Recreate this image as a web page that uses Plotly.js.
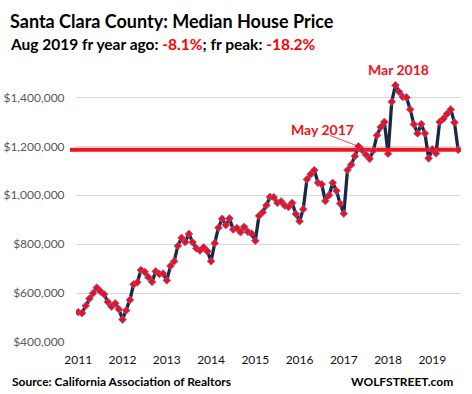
<!DOCTYPE html>
<html>
<head>
<meta charset="utf-8">
<script src="https://cdn.plot.ly/plotly-3.0.1.min.js"></script>
<style>
html,body{margin:0;padding:0;background:#fff;}
#chart{width:472px;height:394px;}
</style>
</head>
<body>
<div id="chart"></div>
<script>
// Monthly median house price, Santa Clara County, thousands of dollars (Jan 2011 - Aug 2019)
var startYear = 2011;
var prices2011 = [522, 518, 548, 577, 599, 622, 607, 595, 564, 545, 558, 534];
var prices2012 = [492, 529, 572, 636, 644, 694, 687, 665, 646, 689, 678, 680];
var prices2013 = [652, 711, 730, 793, 826, 809, 842, 808, 783, 774, 787, 771];
var prices2014 = [730, 804, 867, 904, 878, 905, 860, 866, 849, 871, 850, 843];
var prices2015 = [814, 916, 931, 959, 993, 992, 969, 975, 958, 952, 969, 923];
var prices2016 = [894, 943, 1065, 1086, 1103, 1051, 1045, 977, 1000, 1051, 1018, 966];
var prices2017 = [925, 1103, 1125, 1160, 1200, 1185, 1166, 1149, 1183, 1245, 1279, 1300];
var prices2018 = [1170, 1382, 1450, 1423, 1402, 1400, 1351, 1290, 1253, 1291, 1253, 1151];
var prices2019 = [1188, 1171, 1300, 1313, 1333, 1351, 1298, 1186];

var yearLabels = ['2011','2012','2013','2014','2015','2016','2017','2018','2019'];
var yTickVals = [400, 600, 800, 1000, 1200, 1400];
var yTickText = ['$400,000','$600,000','$800,000','$1,000,000','$1,200,000','$1,400,000'];

var monthNames = ['Jan','Feb','Mar','Apr','May','Jun','Jul','Aug','Sep','Oct','Nov','Dec'];

var prices = [].concat(prices2011, prices2012, prices2013, prices2014, prices2015,
                       prices2016, prices2017, prices2018, prices2019);
var idx = [], hov = [];
for (var i = 0; i < prices.length; i++) {
  idx.push(i);
  hov.push(monthNames[i % 12] + ' ' + (startYear + Math.floor(i / 12)));
}
var yearTickVals = yearLabels.map(function (y, k) { return k * 12; });

var peakIdx = prices.indexOf(Math.max.apply(null, prices)); // Mar 2018
var may2017Idx = 76;
var lastVal = prices[prices.length - 1];
var xRange = [-0.62, 103.78];

var navy = '#1a2745';
var red = '#f0141e';

var traces = [
  {x: idx, y: prices, text: hov, type: 'scatter', mode: 'lines',
   line: {color: navy, width: 3.3}, hoverinfo: 'skip'},
  {x: xRange, y: [lastVal, lastVal], type: 'scatter', mode: 'lines',
   line: {color: red, width: 4}, hoverinfo: 'skip'},
  {x: idx, y: prices, text: hov, type: 'scatter', mode: 'markers',
   marker: {symbol: 'diamond', size: 6, color: '#ff0a0a', line: {color: '#5b74d8', width: 0.8}},
   hovertemplate: '%{text}: $%{y:,}k<extra></extra>'}
];

var fontFam = 'Lato, "Open Sans", sans-serif';

var layout = {
  width: 472, height: 394,
  margin: {l: 76, r: 11, t: 73, b: 51.5, pad: 0},
  paper_bgcolor: '#ffffff', plot_bgcolor: '#ffffff',
  showlegend: false,
  font: {family: fontFam, color: '#000'},
  xaxis: {
    range: xRange, showgrid: false, zeroline: false, showline: false,
    tickmode: 'array', tickvals: yearTickVals, ticktext: yearLabels,
    ticks: 'outside', ticklen: 7, tickcolor: 'rgba(0,0,0,0)',
    tickfont: {family: fontFam, size: 12, color: '#111'}
  },
  yaxis: {
    range: [400, 1500], showgrid: true, gridcolor: '#d9d9d9', gridwidth: 1,
    zeroline: false, showline: false,
    tickmode: 'array', tickvals: yTickVals, ticktext: yTickText,
    ticks: 'outside', ticklen: 8, tickcolor: 'rgba(0,0,0,0)',
    tickfont: {family: fontFam, size: 12, color: '#595959'}
  },
  shapes: [
    {type: 'line', xref: 'paper', yref: 'y', x0: -0.0156, x1: 0.002, y0: lastVal, y1: lastVal,
     line: {color: red, width: 4}},
    {type: 'line', xref: 'x', yref: 'y', x0: may2017Idx - 7.8, y0: prices[may2017Idx] + 45,
     x1: may2017Idx, y1: prices[may2017Idx], line: {color: red, width: 0.8}}
  ],
  annotations: [
    {xref: 'paper', yref: 'paper', x: -0.1766, y: 1.193, xanchor: 'left', yanchor: 'middle',
     text: 'Santa Clara County: Median House Price', showarrow: false,
     font: {family: fontFam, size: 18, color: '#000', weight: 'bold'}},
    {xref: 'paper', yref: 'paper', x: -0.1766, y: 1.1065, xanchor: 'left', yanchor: 'middle',
     text: 'Aug 2019 fr year ago: <span style="color:#ff0000">-8.1%</span>; fr peak: <span style="color:#ff0000">-18.2%</span>',
     showarrow: false, font: {family: fontFam, size: 15.5, color: '#000', weight: 'bold'}},
    {xref: 'x', yref: 'paper', x: peakIdx, xshift: 3, y: 1.0148, xanchor: 'center', yanchor: 'middle',
     text: 'Mar 2018', showarrow: false, font: {family: fontFam, size: 14, color: red, weight: 'bold'}},
    {xref: 'x', yref: 'paper', x: may2017Idx, xshift: -35.6, y: 0.7885, xanchor: 'center', yanchor: 'middle',
     text: 'May 2017', showarrow: false, font: {family: fontFam, size: 14, color: red, weight: 'bold'}},
    {xref: 'paper', yref: 'paper', x: -0.171, y: -0.1466, xanchor: 'left', yanchor: 'middle',
     text: 'Source: California Association of Realtors', showarrow: false,
     font: {family: fontFam, size: 12, color: '#000', weight: 'bold'}},
    {xref: 'paper', yref: 'paper', x: 0.984, y: -0.1466, xanchor: 'right', yanchor: 'middle',
     text: 'WOLFSTREET.com', showarrow: false,
     font: {family: fontFam, size: 12, color: '#000', weight: 'bold'}}
  ]
};

Plotly.newPlot('chart', traces, layout, {displayModeBar: false, staticPlot: true});
</script>
</body>
</html>
